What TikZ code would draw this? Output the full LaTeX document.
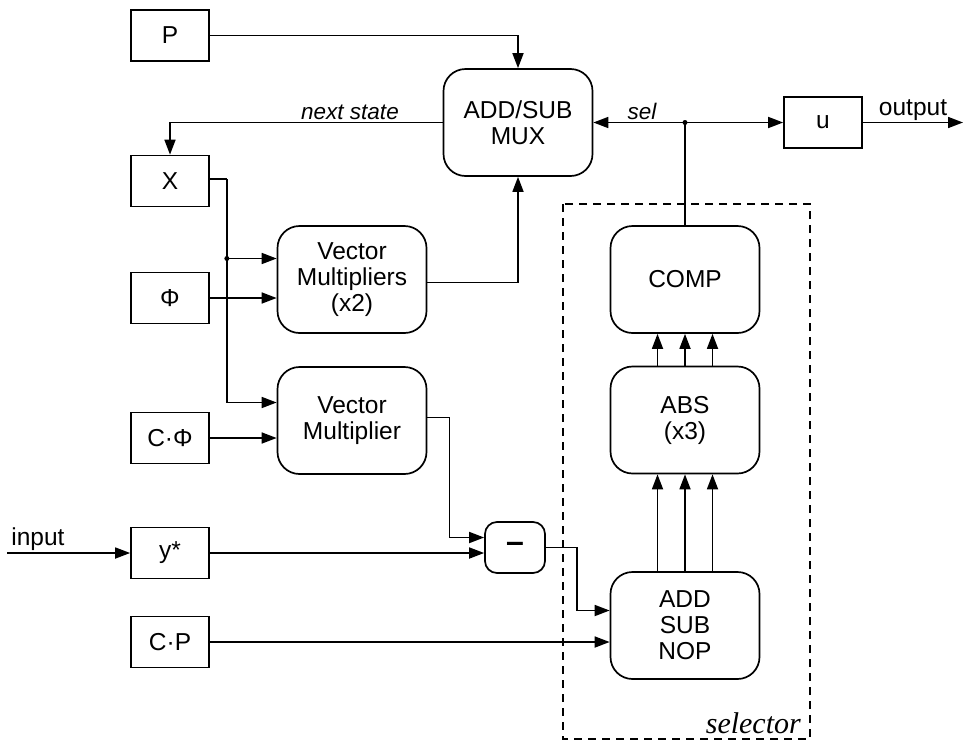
\documentclass[tikz,border=0pt]{standalone}
\usepackage{fontspec}
\setmainfont{Liberation Sans}
\newfontfamily\selfont{Liberation Serif}
\usetikzlibrary{arrows.meta,calc}
\begin{document}
\begin{tikzpicture}[x=1pt,y=-1pt,
  every node/.style={inner sep=0pt,font=\fontsize{24.5}{26}\selectfont,align=center},
  sqbox/.style={draw,line width=1.7pt,minimum width=78pt,minimum height=51pt},
  rbox/.style={draw,line width=1.7pt,rounded corners=22pt,minimum width=149pt,minimum height=107pt},
  minbox/.style={draw,line width=1.7pt,rounded corners=12pt,minimum width=60pt,minimum height=51pt},
  wire/.style={line width=1.7pt},
  arr/.style={line width=1.7pt,-{Triangle[length=15pt,width=11pt]}},
  lbl/.style={font=\fontsize{22.5}{24}\selectfont\itshape},
  dot/.style={circle,fill,inner sep=0pt,minimum size=5pt},
  dashbox/.style={line width=1.5pt,dash pattern=on 8pt off 6pt}
]
\useasboundingbox (0,0) rectangle (963,742);

% rectangles
\node[sqbox] (P) at (170,35.5) {P};
\node[sqbox] (X) at (170,181) {X};
\node[sqbox] (Phi) at (170,298) {Φ};
\node[sqbox] (CPhi) at (170,438) {C·Φ};
\node[sqbox] (ys) at (170,553) {y*};
\node[sqbox] (CP) at (170,642) {C·P};
\node[sqbox] (u) at (823,122.5) {u};

% rounded blocks
\node[rbox] (MUX) at (518,122.5) {ADD/SUB\\MUX};
\node[rbox] (VM1) at (352,279.5) {Vector\\Multipliers\\(x2)};
\node[rbox] (VM2) at (352,420.5) {Vector\\Multiplier};
\node[minbox] (minus) at (515,547.5) {\fontsize{32}{32}\bfseries\selectfont –};
\node[rbox] (COMP) at (685,279.5) {COMP};
\node[rbox] (ABS) at (685,420) {ABS\\(x3)};
\node[rbox] (ADD) at (685,625.5) {ADD\\SUB\\NOP};

% selector box
\draw[dashbox] (563,204) rectangle (810,739);
\node[anchor=base east,font=\selfont\itshape\fontsize{30}{32}\selectfont] (sellbl) at (801,733) {selector};

% P to MUX
\draw[arr] (P.east) -| (MUX.north);
% next state
\draw[arr] (MUX.west) -| (X.north);
\node[lbl,anchor=base] (ns) at (350,119) {next state};

% sel / output
\coordinate (J) at (COMP.north |- MUX.east);
\draw[wire] (COMP.north) -- (J);
\draw[arr] (J) -- (MUX.east);
\draw[arr] (J) -- (u.west);
\node[dot] (Jd) at (J) {};
\node[lbl,anchor=base] (sl) at (642,119) {sel};
\coordinate (out) at (963,122.5);
\draw[arr] (u.east) -- (out);
\node[anchor=base] (ol) at (913,115) {output};

% X distribution
\coordinate (xa) at ($(X.east)+(17,-2)$);
\coordinate (v1a) at ($(VM1.west)+(0,-21)$);
\coordinate (v2a) at ($(VM2.west)+(0,-18)$);
\draw[wire] ($(X.east)+(0,-2)$) -- (xa);
\draw[arr] (xa) |- (v2a);
\draw[arr] (xa |- v1a) -- (v1a);
\node[dot] (xd) at (xa |- v1a) {};
\draw[arr] (Phi.east) -- (Phi.east -| VM1.west);
\draw[arr] (CPhi.east) -- (CPhi.east -| VM2.west);

% VM1 to MUX
\draw[arr] ($(VM1.east)+(0,3)$) -| (MUX.south);

% VM2 to minus
\coordinate (m1) at ($(minus.west)+(0,-10)$);
\draw[arr] ($(VM2.east)+(0,-3)$) -- ++(22,0) |- (m1);
\draw[arr] (ys.east) -- (ys.east -| minus.west);

% input
\coordinate (in) at (7,553);
\draw[arr] (in) -- (ys.west);
\node[anchor=base] (il) at (38,545) {input};

% minus to ADD
\draw[arr] (minus.east) -- ++(31,0) |- ($(ADD.west)+(0,-15)$);
\draw[arr] (CP.east) -- (CP.east -| ADD.west);

% ADD -> ABS -> COMP
\foreach \d in {-27.5,0,27.5}{
  \draw[arr] ($(ADD.north)+(\d,0)$) -- ($(ABS.south)+(\d,0)$);
  \draw[arr] ($(ABS.north)+(\d,0)$) -- ($(COMP.south)+(\d,0)$);
}
\end{tikzpicture}
\end{document}
